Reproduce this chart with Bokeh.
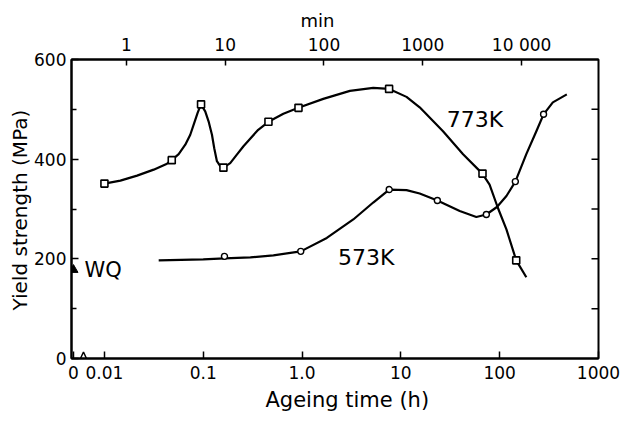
import math
from bokeh.plotting import figure
from bokeh.models import Range1d, LogScale, LogAxis, FixedTicker, Title
from bokeh.embed import file_html
from bokeh.resources import INLINE
from bokeh.core.properties import value

# ---------------- data ----------------
# 773 K ageing: measured points (open squares)
h773 = [0.01, 0.048, 0.095, 0.16, 0.457, 0.92, 7.6, 67, 147]
ys773 = [351, 398, 510, 383, 475, 503, 541, 371, 197]
# 773 K drawn curve (traced)
curve773_h = [0.01, 0.0145, 0.0214, 0.0315, 0.043, 0.048, 0.0564, 0.0658, 0.0739,
              0.0811, 0.0877, 0.0948, 0.1047, 0.1132, 0.1225, 0.1292, 0.1375,
              0.1486, 0.160, 0.1875, 0.2188, 0.2553, 0.2985, 0.36, 0.457, 0.647,
              0.918, 1.64, 3.05, 5.25, 7.62, 11.4, 15.5, 26.7, 42.6, 66.8, 79, 96,
              117, 147, 186]
curve773_y = [351, 357, 367, 379, 391, 398, 410, 429, 449,
              473, 493, 510, 496, 476, 449, 422, 396,
              386, 383, 392, 409, 426, 441, 459, 475, 491,
              503, 521, 537, 543, 541, 525, 504, 456, 410, 371, 349, 302,
              259, 197, 163]

# 573 K ageing: measured points (open circles)
h573 = [0.164, 0.97, 7.62, 23.4, 73.3, 144, 278]
ys573 = [205, 215, 339, 317, 289, 355, 490]
# 573 K drawn curve (traced)
curve573_h = [0.0354, 0.1, 0.164, 0.3, 0.513, 0.97, 1.78, 3.3, 5.25, 7.62, 11.4,
              15.5, 23.4, 39.4, 58, 73.3, 93.8, 117, 144, 186, 235, 278, 345, 478]
curve573_y = [197, 199, 201, 203, 207, 215, 242, 279, 313, 339, 338,
              331, 317, 296, 284, 289, 304, 326, 355, 410, 456, 490, 514, 530]

# water quenched state (time 0)
wq_y = [178]

bottom_ticks = [0.01, 0.1, 1, 10, 100, 1000]
bottom_labels = ["0.01", "0.1", "1.0", "10", "100", "1000"]
top_ticks = [1, 10, 100, 1000, 10000]
top_labels = ["1", "10", "100", "1000", "10 000"]
y_ticks = [0, 200, 400, 600]
y_minor = [100, 300, 500]
right_ticks = [100, 200, 300, 400, 500]

# ---------------- layout ----------------
X_START = 10 ** (-2 - 33 / 99)
ZERO_POS = 10 ** (-2 - 31 / 99)
FONT = "DejaVu Sans"
PX_PER_DEC = 527 / (3 - math.log10(X_START))

p = figure(width=621, height=421, x_axis_type="log",
           x_range=Range1d(X_START, 1000), y_range=Range1d(0, 600),
           output_backend="svg", toolbar_location=None,
           min_border_left=71, min_border_right=23,
           min_border_top=59, min_border_bottom=63)
p.grid.visible = False
p.outline_line_color = "black"
p.outline_line_width = 2
p.background_fill_color = "white"
p.border_fill_color = "white"

def style_axis(ax, tin=7):
    ax.axis_line_width = 2
    ax.axis_line_color = "black"
    ax.major_tick_line_width = 1.5
    ax.major_tick_in = tin
    ax.major_tick_out = 0
    ax.minor_tick_in = 0
    ax.minor_tick_out = 0
    ax.major_label_text_font = FONT
    ax.major_label_text_font_size = "17px"
    ax.major_label_text_color = "black"

# bottom axis
bx = p.xaxis[0]
bx.ticker = FixedTicker(ticks=[ZERO_POS] + bottom_ticks)
ov = {ZERO_POS: "0"}
ov.update(dict(zip(bottom_ticks, bottom_labels)))
bx.major_label_overrides = ov
style_axis(bx)
bx.major_label_standoff = 7

# top axis (minutes)
p.extra_x_ranges = {"min": Range1d(X_START * 60, 1000 * 60)}
p.extra_x_scales = {"min": LogScale()}
tx = LogAxis(x_range_name="min", ticker=FixedTicker(ticks=top_ticks))
tx.major_label_overrides = dict(zip(top_ticks, top_labels))
style_axis(tx, 6)
tx.major_label_standoff = 5
p.add_layout(tx, "above")

# left axis
ly = p.yaxis[0]
ly.ticker = FixedTicker(ticks=y_ticks, minor_ticks=y_minor)
style_axis(ly)
ly.minor_tick_in = 5
ly.minor_tick_line_width = 1.5
ly.major_label_standoff = 5

# axis titles as positioned titles
p.add_layout(Title(text="Ageing time (h)", align="left", offset=194,
                   text_font=FONT, text_font_size="21px", text_font_style="normal",
                   text_color="black", standoff=9), "below")
p.add_layout(Title(text="min", align="left", offset=229,
                   text_font=FONT, text_font_size="18px", text_font_style="normal",
                   text_color="black", standoff=2), "above")
p.add_layout(Title(text="Yield strength (MPa)", align="left", offset=48,
                   text_font=FONT, text_font_size="20px", text_font_style="normal",
                   text_color="black", standoff=0), "left")

# right-hand inward ticks (right frame edge comes from the outline)
tick_x0 = 1000 * 10 ** (-7 / PX_PER_DEC)
p.segment(x0=[tick_x0] * len(right_ticks), y0=right_ticks,
          x1=[1000] * len(right_ticks), y1=right_ticks,
          line_color="black", line_width=1.5)

# axis break mark near the origin
brk_x = [10 ** ((80 - 104) / 99 - 2), 10 ** ((83 - 104) / 99 - 2), 10 ** ((86 - 104) / 99 - 2)]
p.line(brk_x, [0, 13, 0], line_color="black", line_width=1.5)

# curves
p.line(curve773_h, curve773_y, line_color="black", line_width=2.2, line_join="round")
p.line(curve573_h, curve573_y, line_color="black", line_width=2.2, line_join="round")

# markers
p.scatter(h773, ys773, marker="square", size=7, line_width=1.6,
          line_color="black", fill_color="white")
p.scatter(h573, ys573, marker="circle", size=6, line_width=1.4,
          line_color="black", fill_color="white")
p.scatter([ZERO_POS], wq_y, marker="triangle", size=9,
          line_color="black", fill_color="black")

# in-plot labels
p.text(x=[29.2], y=[480], text=["773K"], text_font=value(FONT),
       text_font_size=value("22px"), text_align="left", text_baseline="middle",
       text_color="black")
p.text(x=[2.31], y=[203], text=["573K"], text_font=value(FONT),
       text_font_size=value("22px"), text_align="left", text_baseline="middle",
       text_color="black")
p.text(x=[10 ** ((84 - 104) / 99 - 2)], y=[177], text=["WQ"], text_font=value(FONT),
       text_font_size=value("21px"), text_align="left", text_baseline="middle",
       text_color="black")

open("out.html", "w").write(file_html(p, INLINE))
